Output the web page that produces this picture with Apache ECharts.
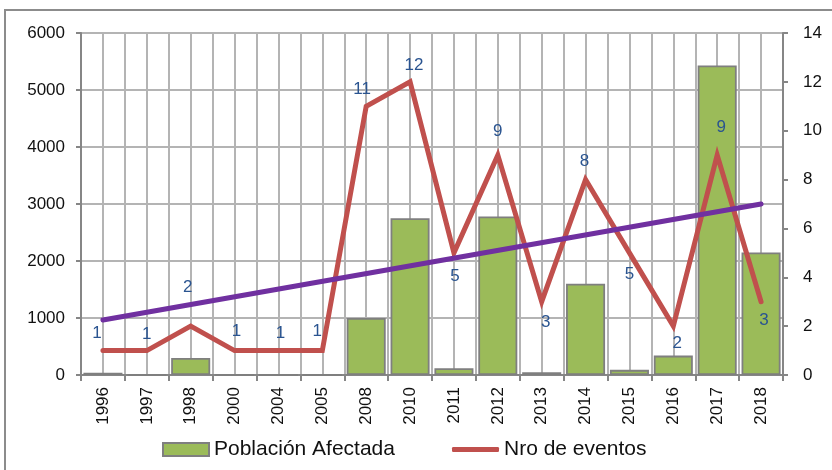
<!DOCTYPE html>
<html>
<head>
<meta charset="utf-8">
<script src="https://cdn.jsdelivr.net/npm/echarts@6/dist/echarts.min.js"></script>
<style>
html,body{margin:0;padding:0;background:#fff;}
#chart{width:832px;height:470px;}
</style>
</head>
<body>
<div id="chart"></div>
<script>
const categories = ['1996','1997','1998','2000','2004','2005','2008','2010','2011','2012','2013','2014','2015','2016','2017','2018'];
const poblacionAfectada = [40, 0, 300, 0, 0, 0, 1000, 2750, 120, 2780, 50, 1600, 90, 340, 5430, 2150];
const nroEventos = [1, 1, 2, 1, 1, 1, 11, 12, 5, 9, 3, 8, 5, 2, 9, 3];
const trendEnds = [2.25, 7.0];
const leftTicks = { min: 0, max: 6000, interval: 1000 };
const rightTicks = { min: 0, max: 14, interval: 2 };

// label placement (style only)
const labelOffsets = [[-6,-17],[0,-16],[-3,-39],[2,-19],[2,-17],[-5,-19],[-4,-17],[4,-17],[1,23],[0,-24],[4,21],[-1,-18],[0,21],[4,17],[4,-28],[3,19]];

const FONT = 'Liberation Sans';
const last = categories.length - 1;
const SYM = 2;

const chart = echarts.init(document.getElementById('chart'), null, {renderer:'canvas'});
chart.setOption({
  animation: false,
  backgroundColor: '#ffffff',
  textStyle: { fontFamily: FONT },
  graphic: [{
    type: 'rect', z: -10, silent: true,
    shape: { x: 5, y: 10, width: 1200, height: 1200 },
    style: { fill: 'none', stroke: '#8C8C8C', lineWidth: 2 }
  }],
  grid: { left: 81, right: 49, top: 33, bottom: 95, containLabel: false },
  legend: [
    { data: [{ name: 'Población Afectada', icon: 'rect' }], left: 157, top: 434, itemWidth: 46, itemHeight: 13, itemGap: 0,
      textStyle: { fontFamily: FONT, fontSize: 21, color: '#111' }, selectedMode: false },
    { data: [{ name: 'Nro de eventos', icon: 'roundRect' }], left: 447, top: 434, itemWidth: 47, itemHeight: 5, itemGap: 0,
      textStyle: { fontFamily: FONT, fontSize: 21, color: '#111' }, selectedMode: false }
  ],
  xAxis: [
    {
      type: 'category', data: categories, boundaryGap: true,
      axisLine: { lineStyle: { color: '#868686', width: 2 } },
      axisTick: { show: true, length: 6, alignWithLabel: false, lineStyle: { color: '#868686', width: 2 } },
      axisLabel: { rotate: 90, margin: 12, fontFamily: FONT, fontSize: 17, color: '#111', interval: 0 },
      splitLine: { show: false }
    },
    {
      type: 'value', min: 0, max: categories.length, interval: 0.5, position: 'bottom',
      axisLine: { show: false }, axisTick: { show: false }, axisLabel: { show: false },
      splitLine: { show: true, lineStyle: { color: '#B4B4B4', width: 2 } }
    }
  ],
  yAxis: [
    {
      type: 'value', min: leftTicks.min, max: leftTicks.max, interval: leftTicks.interval, position: 'left',
      axisLine: { show: true, lineStyle: { color: '#868686', width: 2 } },
      axisTick: { show: true, length: 5, lineStyle: { color: '#868686', width: 2 } },
      axisLabel: { margin: 16, fontFamily: FONT, fontSize: 17, color: '#111', formatter: v => String(v) },
      splitLine: { show: true, lineStyle: { color: '#B4B4B4', width: 2 } }
    },
    {
      type: 'value', min: rightTicks.min, max: rightTicks.max, interval: rightTicks.interval, position: 'right',
      axisLine: { show: true, lineStyle: { color: '#868686', width: 2 } },
      axisTick: { show: true, length: 5, lineStyle: { color: '#868686', width: 2 } },
      axisLabel: { margin: 20, fontFamily: FONT, fontSize: 17, color: '#111', formatter: v => String(v) },
      splitLine: { show: false }
    }
  ],
  series: [
    {
      name: 'Población Afectada', type: 'bar', xAxisIndex: 0, yAxisIndex: 0,
      data: poblacionAfectada, barCategoryGap: '11%',
      itemStyle: { color: '#9BBB59', borderColor: '#7F7F7F', borderWidth: 1.8 },
      z: 2
    },
    {
      name: 'Nro de eventos', type: 'line', xAxisIndex: 0, yAxisIndex: 1,
      symbol: 'circle', symbolSize: SYM, showSymbol: true,
      data: nroEventos.map((v, i) => ({
        value: v,
        label: {
          show: true,
          position: [SYM / 2 + labelOffsets[i][0], SYM / 2 + labelOffsets[i][1]],
          align: 'center', verticalAlign: 'middle'
        }
      })),
      lineStyle: { color: '#C0504D', width: 5, cap: 'round', join: 'miter' },
      itemStyle: { color: '#C0504D' },
      label: { show: true, fontFamily: FONT, fontSize: 17, color: '#2A5490' },
      labelLayout: { hideOverlap: false },
      z: 3
    },
    {
      name: 'Tendencia', type: 'line', xAxisIndex: 0, yAxisIndex: 1,
      symbol: 'none', connectNulls: true,
      data: categories.map((c, i) => i === 0 ? trendEnds[0] : (i === last ? trendEnds[1] : '-')),
      lineStyle: { color: '#7030A0', width: 5, cap: 'round' },
      itemStyle: { color: '#7030A0' },
      z: 4
    }
  ]
});
</script>
</body>
</html>
